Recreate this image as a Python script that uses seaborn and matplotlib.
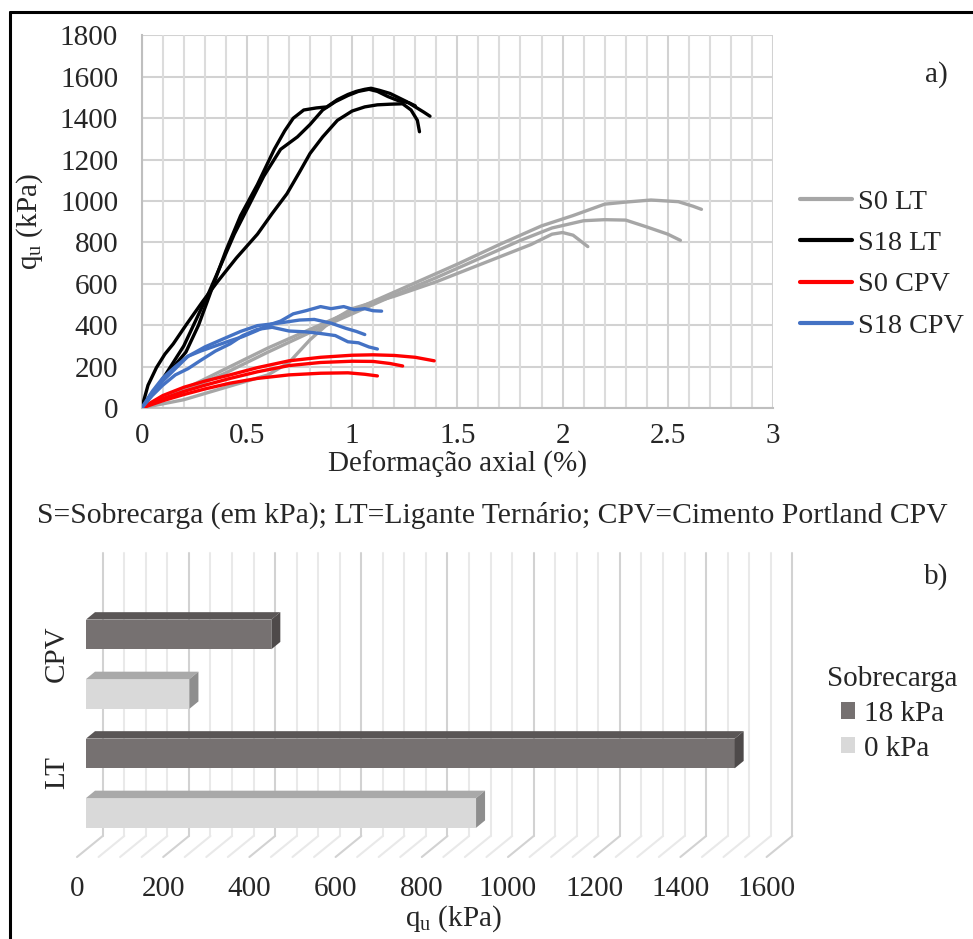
import matplotlib
matplotlib.use("Agg")
import matplotlib.pyplot as plt
from matplotlib.patches import Polygon
from matplotlib.lines import Line2D
import seaborn as sns
import pandas as pd
import numpy as np

# a) curvas q_u x deformação axial (valores lidos do gráfico)
s0_lt_x1 = [0, 0.2, 0.4, 0.6, 0.8, 1.0, 1.2, 1.4, 1.5, 1.7, 1.9, 2.05, 2.2, 2.3, 2.42, 2.55, 2.62, 2.66]
s0_lt_q1 = [0, 90, 190, 290, 380, 470, 560, 650, 695, 790, 880, 930, 985, 995, 1005, 997, 975, 960]
s0_lt_x2 = [0, 0.2, 0.4, 0.6, 0.8, 1.0, 1.2, 1.4, 1.6, 1.8, 1.95, 2.1, 2.2, 2.3, 2.4, 2.5, 2.56]
s0_lt_q2 = [0, 80, 170, 270, 365, 455, 545, 630, 720, 810, 870, 905, 910, 908, 875, 840, 810]
s0_lt_x3 = [0, 0.2, 0.4, 0.6, 0.7, 0.8, 0.9, 1.0, 1.2, 1.4, 1.6, 1.7, 1.85, 1.95, 2.0, 2.05, 2.12]
s0_lt_q3 = [0, 40, 100, 160, 220, 330, 420, 480, 540, 610, 690, 730, 790, 840, 848, 835, 780]

s18_lt_x1 = [0, 0.03, 0.07, 0.11, 0.15, 0.21, 0.29, 0.36, 0.45, 0.55, 0.62, 0.69, 0.75, 0.80, 0.86,
             0.93, 1.00, 1.06, 1.12, 1.18, 1.24, 1.28, 1.31, 1.32]
s18_lt_q1 = [0, 110, 195, 260, 310, 400, 515, 610, 725, 840, 940, 1035, 1140, 1230, 1310,
             1390, 1435, 1455, 1465, 1468, 1470, 1440, 1390, 1335]
s18_lt_x2 = [0, 0.04, 0.09, 0.14, 0.21, 0.27, 0.31, 0.36, 0.40, 0.47, 0.55, 0.63, 0.68, 0.72, 0.77,
             0.83, 0.88, 0.93, 0.98, 1.02, 1.06, 1.09, 1.13, 1.18, 1.22, 1.26, 1.30, 1.34, 1.37]
s18_lt_q2 = [0, 60, 125, 185, 270, 400, 510, 650, 760, 930, 1080, 1250, 1340, 1400, 1440,
             1450, 1455, 1490, 1515, 1530, 1540, 1545, 1535, 1520, 1500, 1480, 1455, 1430, 1410]
s18_lt_x3 = [0, 0.05, 0.10, 0.15, 0.20, 0.26, 0.32, 0.38, 0.44, 0.50, 0.58, 0.66, 0.74, 0.80, 0.86,
             0.92, 0.98, 1.03, 1.08, 1.12, 1.17, 1.22, 1.27, 1.30]
s18_lt_q3 = [0, 70, 140, 220, 300, 430, 560, 700, 840, 960, 1120, 1250, 1310, 1370, 1440,
             1480, 1510, 1530, 1540, 1530, 1505, 1485, 1475, 1460]

s0_cpv_x1 = [0, 0.1, 0.2, 0.3, 0.42, 0.55, 0.7, 0.85, 1.0, 1.1, 1.2, 1.3, 1.39]
s0_cpv_q1 = [0, 60, 100, 130, 160, 195, 228, 245, 255, 257, 254, 245, 228]
s0_cpv_x2 = [0, 0.1, 0.2, 0.3, 0.42, 0.55, 0.7, 0.85, 1.0, 1.1, 1.18, 1.24]
s0_cpv_q2 = [0, 45, 80, 110, 143, 175, 205, 220, 226, 225, 215, 203]
s0_cpv_x3 = [0, 0.1, 0.2, 0.3, 0.42, 0.55, 0.7, 0.85, 0.98, 1.06, 1.12]
s0_cpv_q3 = [0, 35, 65, 92, 120, 143, 160, 168, 170, 163, 155]

s18_cpv_x1 = [0, 0.05, 0.1, 0.16, 0.22, 0.28, 0.35, 0.42, 0.48, 0.55, 0.6, 0.66, 0.72, 0.78, 0.85,
              0.9, 0.96, 1.01, 1.06, 1.1, 1.14]
s18_cpv_q1 = [0, 70, 130, 190, 250, 275, 300, 325, 345, 375, 400, 420, 455, 470, 490,
              480, 490, 475, 480, 470, 468]
s18_cpv_x2 = [0, 0.05, 0.1, 0.16, 0.22, 0.3, 0.39, 0.47, 0.55, 0.65, 0.75, 0.82, 0.9, 0.97, 1.02, 1.06]
s18_cpv_q2 = [0, 80, 145, 200, 250, 295, 335, 370, 398, 410, 425, 428, 410, 385, 370, 355]
s18_cpv_x3 = [0, 0.05, 0.1, 0.16, 0.22, 0.28, 0.35, 0.42, 0.48, 0.55, 0.62, 0.7, 0.78, 0.85,
              0.92, 0.98, 1.03, 1.08, 1.12]
s18_cpv_q3 = [0, 60, 110, 160, 190, 230, 275, 310, 350, 380, 390, 372, 368, 360,
              350, 320, 315, 295, 285]

series = ["S0 LT", "S18 LT", "S0 CPV", "S18 CPV"]
cores = ["#a6a6a6", "#000000", "#ff0000", "#4472c4"]

# b) q_u médio por ligante e sobrecarga
ligantes = ["CPV", "CPV", "LT", "LT"]
sobrecargas = ["18 kPa", "0 kPa", "18 kPa", "0 kPa"]
qu_medio = [430, 240, 1505, 905]

curvas = [
    ("S0 LT", s0_lt_x1, s0_lt_q1), ("S0 LT", s0_lt_x2, s0_lt_q2), ("S0 LT", s0_lt_x3, s0_lt_q3),
    ("S18 LT", s18_lt_x1, s18_lt_q1), ("S18 LT", s18_lt_x2, s18_lt_q2), ("S18 LT", s18_lt_x3, s18_lt_q3),
    ("S0 CPV", s0_cpv_x1, s0_cpv_q1), ("S0 CPV", s0_cpv_x2, s0_cpv_q2), ("S0 CPV", s0_cpv_x3, s0_cpv_q3),
    ("S18 CPV", s18_cpv_x1, s18_cpv_q1), ("S18 CPV", s18_cpv_x2, s18_cpv_q2), ("S18 CPV", s18_cpv_x3, s18_cpv_q3),
]
linhas = []
for i, (serie, xs, qs) in enumerate(curvas):
    for x, q in zip(xs, qs):
        linhas.append({"serie": serie, "ensaio": i, "deform": x, "qu": q})
df_curvas = pd.DataFrame(linhas)
df_barras = pd.DataFrame({"ligante": ligantes, "sobrecarga": sobrecargas, "qu": qu_medio})

sns.set_style("white")
plt.rcParams["font.family"] = ["Liberation Serif", "DejaVu Serif"]
plt.rcParams["mathtext.default"] = "regular"
FS = 21

fig = plt.figure(figsize=(9.73, 9.39), dpi=100)
W, H = 973, 939


def px_axes(l, t, r, b):
    return [l / W, 1 - b / H, (r - l) / W, (b - t) / H]


# ---------------- a) ----------------
ax1 = fig.add_axes(px_axes(141.7, 35.5, 773, 408))
sns.lineplot(data=df_curvas, x="deform", y="qu", hue="serie", units="ensaio",
             estimator=None, sort=False, hue_order=series, palette=cores,
             lw=2.4, ax=ax1, zorder=3)
ax1.set_xlim(0, 3)
ax1.set_ylim(0, 1800)
ax1.set_xticks(np.arange(0, 3.01, 0.5))
ax1.set_xticklabels(["0", "0.5", "1", "1.5", "2", "2.5", "3"])
ax1.set_yticks(np.arange(0, 1801, 200))
ax1.grid(which="major", axis="both", color="#d2d2d2", lw=1.5)
ax1.set_axisbelow(True)
# grade secundária a cada 0.1 (depois das curvas, mas por baixo delas)
grade_menor = [v for v in np.round(np.arange(0.1, 3.0, 0.1), 2) if round(v * 10) % 5 != 0]
for v in grade_menor:
    ax1.add_line(Line2D([v, v], [0, 1800], color="#dcdcdc", lw=1.5, zorder=2))
for s in ["top", "right"]:
    ax1.spines[s].set_visible(False)
for s in ["left", "bottom"]:
    ax1.spines[s].set_color("#bfbfbf")
    ax1.spines[s].set_linewidth(1.5)
ax1.tick_params(which="both", length=0, labelsize=FS)
ax1.tick_params(axis="y", pad=17)
ax1.tick_params(axis="x", pad=11)
ax1.set_xlabel("Deformação axial (%)", fontsize=FS, labelpad=1)
ax1.set_ylabel(r"q$_\mathregular{u}$ (kPa)", fontsize=FS, labelpad=11)
h, l = ax1.get_legend_handles_labels()
for hh in h:
    hh.set_linewidth(3)
ax1.legend(h, l, loc="center left", bbox_to_anchor=(800 / W, 1 - 264 / H),
           bbox_transform=fig.transFigure, frameon=False, fontsize=20.3,
           handlelength=1.85, handletextpad=0.2, labelspacing=0.55, borderpad=0,
           borderaxespad=0)
fig.text(936 / W, 1 - 75 / H, "a)", fontsize=FS, ha="center", va="center")

fig.text(492 / W, 1 - 515 / H,
         "S=Sobrecarga (em kPa); LT=Ligante Ternário; CPV=Cimento Portland CPV",
         fontsize=21.3, ha="center", va="center")

# ---------------- b) ----------------
ax2 = fig.add_axes(px_axes(70, 540, 800, 870))
escala = 0.431      # px por kPa
cat_px = 119.0      # px por categoria
sns.barplot(data=df_barras, y="ligante", x="qu", hue="sobrecarga", orient="h",
            order=["CPV", "LT"], hue_order=["18 kPa", "0 kPa"],
            palette=["#767171", "#d9d9d9"], saturation=1, width=1.0, gap=0.5,
            linewidth=0, ax=ax2, zorder=3)
x0 = -(86 - 70) / escala
ax2.set_xlim(x0, x0 + 730 / escala)
ax2.set_ylim(1 + (870 - 783.2) / cat_px, (540 - 664.2) / cat_px)

# profundidade (3D) em unidades de dados
dx = 9 / escala
dy = -7.4 / cat_px
parede_dx = 16.7 / escala
piso_frente_dx = -9 / escala
topo_parede = (553 - 664.2) / cat_px
piso_fundo = 1 + (836 - 783.2) / cat_px
piso_frente = 1 + (857 - 783.2) / cat_px

for k in np.arange(0, 1601, 50):
    cor = "#d2d2d2" if k % 200 == 0 else "#e9e9e9"
    ax2.plot([k + parede_dx, k + parede_dx], [topo_parede, piso_fundo], color=cor, lw=1.5, zorder=0.5)
    ax2.plot([k + piso_frente_dx, k + parede_dx], [piso_frente, piso_fundo], color=cor, lw=1.5, zorder=0.5)

faces = {"#767171": ("#5a5656", "#4e4a4a"), "#d9d9d9": ("#a9a9a9", "#8e8e8e")}
for p in list(ax2.patches):
    if p.get_width() <= 0:
        continue
    fc = matplotlib.colors.to_hex(p.get_facecolor())
    if fc not in faces:
        continue
    topo_c, lado_c = faces[fc]
    xa, ya, w, hh = p.get_x(), p.get_y(), p.get_width(), p.get_height()
    xb, yb = xa + w, ya + hh
    ax2.add_patch(Polygon([(xa, ya), (xb, ya), (xb + dx, ya + dy), (xa + dx, ya + dy)],
                          closed=True, facecolor=topo_c, edgecolor="none", zorder=3))
    ax2.add_patch(Polygon([(xb, ya), (xb, yb), (xb + dx, yb + dy), (xb + dx, ya + dy)],
                          closed=True, facecolor=lado_c, edgecolor="none", zorder=3))

for s in ax2.spines.values():
    s.set_visible(False)
ticks_b = np.arange(0, 1601, 200)
ax2.set_xticks(ticks_b + piso_frente_dx)
ax2.set_xticklabels([str(t) for t in ticks_b])
ax2.set_yticks([0, 1])
ax2.set_yticklabels(["CPV", "LT"], rotation=90, va="center")
ax2.tick_params(length=0, labelsize=FS)
ax2.tick_params(axis="x", pad=4)
ax2.tick_params(axis="y", pad=0)
off = matplotlib.transforms.ScaledTranslation(0, 11 / 100, fig.dpi_scale_trans)
for lab in ax2.get_yticklabels():
    lab.set_transform(lab.get_transform() + off)
ax2.set_ylabel("")
ax2.set_xlabel(r"q$_\mathregular{u}$ (kPa)", fontsize=FS)
ax2.xaxis.set_label_coords((453 - 70) / 730, -(903 - 870) / 330)

h2, l2 = ax2.get_legend_handles_labels()
ax2.legend(h2, l2, title="Sobrecarga", loc="upper left",
           bbox_to_anchor=(827 / W, 1 - 666 / H), bbox_transform=fig.transFigure,
           frameon=False, fontsize=FS, title_fontsize=FS, handlelength=0.5,
           handleheight=0.5, handletextpad=0.3, labelspacing=0.3, borderpad=0,
           borderaxespad=0, alignment="center")
fig.text(936 / W, 1 - 577 / H, "b)", fontsize=FS, ha="center", va="center")

# moldura
fig.add_artist(Line2D([10 / W, 10 / W], [0, 1 - 12 / H], color="black", lw=2.2))
fig.add_artist(Line2D([10 / W, 1], [1 - 12 / H, 1 - 12 / H], color="black", lw=2.2))

fig.savefig("out.png", dpi=100)
